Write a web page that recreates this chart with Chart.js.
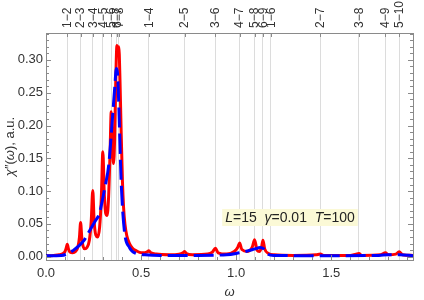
<!DOCTYPE html>
<html>
<head>
<meta charset="utf-8">
<script src="https://cdn.jsdelivr.net/npm/chart.js@4.4.1/dist/chart.umd.min.js"></script>
<style>
  html, body { margin: 0; padding: 0; background: #fff; }
</style>
</head>
<body>
<canvas id="myChart" width="424" height="300"></canvas>
<script>
// red: spectrum of the finite chain, blue: broad (dashed) curve
var redW = [0.000, 0.040, 0.070, 0.090, 0.100, 0.106, 0.112, 0.118, 0.126, 0.140, 0.155, 0.168, 0.176, 0.182, 0.188, 0.196, 0.205, 0.215, 0.228, 0.238, 0.246, 0.253, 0.262, 0.272, 0.282, 0.291, 0.299, 0.306, 0.314, 0.321, 0.329, 0.337, 0.343, 0.349, 0.355, 0.361, 0.367, 0.373, 0.378, 0.383, 0.389, 0.395, 0.402, 0.408, 0.415, 0.425, 0.439, 0.455, 0.475, 0.492, 0.510, 0.530, 0.541, 0.552, 0.580, 0.650, 0.700, 0.720, 0.729, 0.738, 0.770, 0.850, 0.875, 0.891, 0.905, 0.950, 0.990, 1.008, 1.018, 1.030, 1.060, 1.085, 1.097, 1.110, 1.122, 1.133, 1.141, 1.150, 1.170, 1.200, 1.300, 1.420, 1.443, 1.460, 1.600, 1.630, 1.646, 1.660, 1.760, 1.785, 1.800, 1.840, 1.857, 1.875, 1.930];
var redY = [0.001, 0.002, 0.003, 0.005, 0.008, 0.013, 0.019, 0.012, 0.007, 0.006, 0.008, 0.015, 0.030, 0.052, 0.030, 0.015, 0.012, 0.014, 0.025, 0.055, 0.101, 0.055, 0.033, 0.030, 0.045, 0.090, 0.160, 0.100, 0.066, 0.063, 0.090, 0.160, 0.221, 0.170, 0.142, 0.180, 0.270, 0.322, 0.312, 0.320, 0.270, 0.193, 0.115, 0.075, 0.050, 0.032, 0.020, 0.013, 0.009, 0.0066, 0.006, 0.007, 0.009, 0.006, 0.004, 0.003, 0.004, 0.006, 0.008, 0.005, 0.003, 0.004, 0.007, 0.013, 0.006, 0.004, 0.008, 0.014, 0.021, 0.011, 0.008, 0.015, 0.026, 0.010, 0.008, 0.014, 0.025, 0.012, 0.005, 0.003, 0.002, 0.003, 0.004, 0.002, 0.002, 0.004, 0.005, 0.002, 0.003, 0.006, 0.003, 0.004, 0.0075, 0.003, 0.002];

var blueW = [0.000, 0.080, 0.110, 0.140, 0.200, 0.220, 0.260, 0.280, 0.290, 0.310, 0.330, 0.350, 0.362, 0.370, 0.376, 0.383, 0.395, 0.412, 0.439, 0.474, 0.520, 0.600, 0.800, 0.950, 1.000, 1.050, 1.100, 1.125, 1.145, 1.165, 1.200, 1.500, 1.750, 1.800, 1.860, 1.930];
var blueY = [0.0015, 0.002, 0.004, 0.009, 0.025, 0.035, 0.055, 0.065, 0.077, 0.106, 0.140, 0.213, 0.260, 0.287, 0.280, 0.229, 0.116, 0.040, 0.014, 0.005, 0.003, 0.002, 0.002, 0.003, 0.005, 0.008, 0.012, 0.014, 0.012, 0.004, 0.002, 0.0015, 0.002, 0.003, 0.003, 0.0015];

// transition frequencies on the top axis
var transPos = [0.112, 0.182, 0.246, 0.299, 0.343, 0.373, 0.383, 0.541, 0.729, 0.891, 1.018, 1.097, 1.141, 1.182, 1.443, 1.646, 1.785, 1.857];
var transLabels = ['1\u22122', '2\u22123', '3\u22124', '4\u22125', '5\u22126', '6\u22127', '7\u22128', '1\u22124', '2\u22125', '3\u22126', '4\u22127', '5\u22128', '6\u22129', '1\u22126', '2\u22127', '3\u22128', '4\u22129', '5\u221210'];

var xMin = 0, xMax = 1.93;
var yMin = -0.005, yMax = 0.341;

var FONT = "'Liberation Sans', Arial, sans-serif";
var FRAME = '#8a8a8a';

function pts(w, v) {
  var out = [];
  for (var i = 0; i < w.length; i++) out.push({x: w[i], y: v[i]});
  return out;
}

// inward ticks (Mathematica style frame) + titles + label box
var frameStuff = {
  id: 'frameStuff',
  afterDatasetsDraw: function(chart) {
    var ctx = chart.ctx, a = chart.chartArea;
    var sx = chart.scales.x, sy = chart.scales.y, st = chart.scales.xTop;
    ctx.save();
    ctx.strokeStyle = FRAME;
    ctx.lineWidth = 1;
    ctx.beginPath();
    var i, p, len;
    for (i = 0; i <= 19; i++) {
      p = Math.round(sx.getPixelForValue(i / 10)) + 0.5;
      len = (i % 5 === 0) ? 5 : 3;
      ctx.moveTo(p, a.bottom); ctx.lineTo(p, a.bottom - len);
    }
    for (i = 0; i <= 34; i++) {
      p = Math.round(sy.getPixelForValue(i / 100)) + 0.5;
      len = (i % 5 === 0) ? 5 : 3;
      ctx.moveTo(a.left, p); ctx.lineTo(a.left + len, p);
      ctx.moveTo(a.right, p); ctx.lineTo(a.right - len, p);
    }
    for (i = 0; i < transPos.length; i++) {
      p = Math.round(st.getPixelForValue(transPos[i])) + 0.5;
      ctx.moveTo(p, a.top); ctx.lineTo(p, a.top + 4);
    }
    ctx.stroke();
    ctx.restore();
  },
  afterDraw: function(chart) {
    var ctx = chart.ctx, a = chart.chartArea, st = chart.scales.xTop;
    var k;
    ctx.save();
    ctx.fillStyle = '#333';
    // top labels, reading upwards, starting just above the frame
    ctx.font = '12px ' + FONT;
    ctx.textAlign = 'left';
    ctx.textBaseline = 'middle';
    for (k = 0; k < transPos.length; k++) {
      ctx.save();
      ctx.translate(st.getPixelForValue(transPos[k]) + 0.5, a.top - 5);
      ctx.rotate(-Math.PI / 2);
      ctx.fillText(transLabels[k], 0, 0);
      ctx.restore();
    }

    // x title
    ctx.font = 'italic 13px ' + FONT;
    ctx.textAlign = 'center';
    ctx.fillText('\u03c9', (a.left + a.right) / 2, 292);

    // y title, rotated
    var yParts = [['\u03c7', 'italic '], ['\u2033(', ''], ['\u03c9', 'italic '], ['), a.u.', '']];
    ctx.translate(10, (a.top + a.bottom) / 2);
    ctx.rotate(-Math.PI / 2);
    var tw = 0;
    for (k = 0; k < yParts.length; k++) {
      ctx.font = yParts[k][1] + '13px ' + FONT;
      tw += ctx.measureText(yParts[k][0]).width;
    }
    var cx = -tw / 2;
    ctx.textAlign = 'left';
    for (k = 0; k < yParts.length; k++) {
      ctx.font = yParts[k][1] + '13px ' + FONT;
      ctx.fillText(yParts[k][0], cx, 0);
      cx += ctx.measureText(yParts[k][0]).width;
    }
    ctx.restore();

    // parameter box
    ctx.save();
    var parts = [['L', 'italic '], ['=15  ', ''], ['\u03b3', 'italic '], ['=0.01  ', ''], ['T', 'italic '], ['=100', '']];
    var w = 0;
    for (k = 0; k < parts.length; k++) {
      ctx.font = parts[k][1] + '14px ' + FONT;
      w += ctx.measureText(parts[k][0]).width;
    }
    var bx = 290 - w / 2;
    ctx.fillStyle = '#fbf9d6';
    ctx.fillRect(bx - 3, 209, w + 6, 17);
    ctx.fillStyle = '#222';
    ctx.textBaseline = 'alphabetic';
    ctx.textAlign = 'left';
    for (k = 0; k < parts.length; k++) {
      ctx.font = parts[k][1] + '14px ' + FONT;
      ctx.fillText(parts[k][0], bx, 222);
      bx += ctx.measureText(parts[k][0]).width;
    }
    ctx.restore();
  }
};

var ctx = document.getElementById('myChart');
var myChart = new Chart(ctx, {
  type: 'line',
  data: {
    datasets: [
      {
        label: 'broad',
        data: pts(blueW, blueY),
        borderColor: '#0000ff',
        borderWidth: 3,
        borderDash: [20, 6],
        pointRadius: 0,
        cubicInterpolationMode: 'monotone',
        xAxisID: 'x', yAxisID: 'y'
      },
      {
        label: 'chain',
        data: pts(redW, redY),
        borderColor: '#ff0000',
        borderWidth: 3,
        pointRadius: 0,
        cubicInterpolationMode: 'monotone',
        xAxisID: 'x', yAxisID: 'y'
      }
    ]
  },
  options: {
    responsive: false,
    animation: false,
    devicePixelRatio: 1,
    layout: { padding: 0 },
    plugins: { legend: { display: false }, tooltip: { enabled: false } },
    scales: {
      x: {
        type: 'linear', position: 'bottom', min: xMin, max: xMax,
        ticks: { stepSize: 0.5, includeBounds: false, maxRotation: 0, padding: 6, color: '#333',
                 font: { family: FONT, size: 13 },
                 callback: function(v) { return v.toFixed(1); } },
        grid: { display: false, drawTicks: false },
        border: { color: FRAME },
        afterFit: function(s) { s.height = 40; }
      },
      xTop: {
        type: 'linear', position: 'top', min: xMin, max: xMax,
        afterBuildTicks: function(s) { s.ticks = transPos.map(function(v) { return {value: v}; }); },
        ticks: { display: false, autoSkip: false },
        grid: { color: '#dcdcdc', drawTicks: false },
        border: { color: FRAME },
        afterFit: function(s) { s.height = 33; }
      },
      y: {
        type: 'linear', position: 'left', min: yMin, max: yMax,
        ticks: { stepSize: 0.05, includeBounds: false, padding: 3, color: '#333',
                 font: { family: FONT, size: 13 },
                 callback: function(v) { return v.toFixed(2); } },
        grid: { display: false, drawTicks: false },
        border: { color: FRAME },
        afterFit: function(s) { s.width = 46; }
      },
      yRight: {
        type: 'linear', position: 'right', min: yMin, max: yMax,
        ticks: { display: false },
        grid: { display: false, drawTicks: false },
        border: { color: FRAME },
        afterFit: function(s) { s.width = 11; }
      }
    }
  },
  plugins: [frameStuff]
});
</script>
</body>
</html>
